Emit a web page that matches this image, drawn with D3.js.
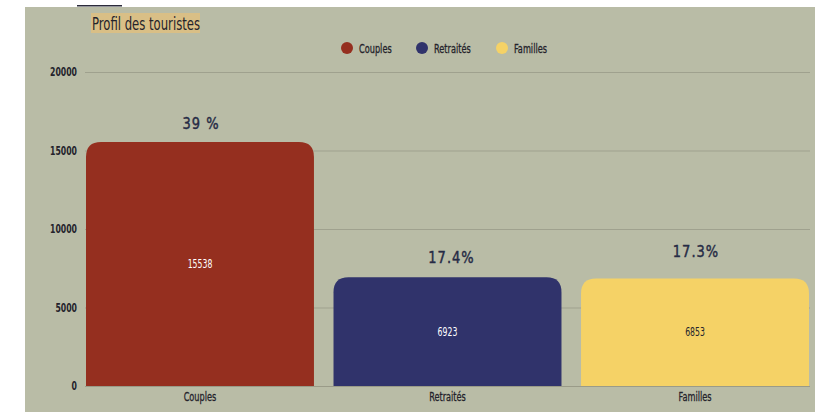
<!DOCTYPE html>
<html>
<head>
<meta charset="utf-8">
<script src="https://cdn.jsdelivr.net/npm/d3@7"></script>
<style>
  html, body { margin: 0; padding: 0; background: #ffffff; }
  svg { display: block; }
  .cond { font-family: "DejaVu Sans Condensed", "Liberation Sans Narrow", sans-serif; }
</style>
</head>
<body>
<svg id="chart" width="815" height="412"></svg>
<script>
// Tourist profile: count per group, with share labels above each bar
const categories = ["Couples", "Retraités", "Familles"];
const values = [15538, 6923, 6853];
const shares = ["39 %", "17.4%", "17.3%"];
const colors = ["#952f1f", "#30336b", "#f5d266"];
const yTicks = [0, 5000, 10000, 15000, 20000];

const svg = d3.select("#chart");
const W = 815, H = 412;
const ink = "#24232b";

// narrow text: place a group at (x, y) and squeeze the glyphs horizontally
function narrowText(parent, x, y, txt, size, sx, anchor) {
  const g = parent.append("g").attr("transform", `translate(${x},${y}) scale(${sx},1)`);
  return g.append("text").attr("class", "cond").attr("font-size", size)
    .attr("text-anchor", anchor || "start").attr("fill", ink).text(txt);
}

// panel background
svg.append("rect").attr("x", 25).attr("y", 7).attr("width", W - 25).attr("height", H - 7)
  .attr("fill", "#b9bca6");

// small header rule peeking above the panel
svg.append("rect").attr("x", 77).attr("y", 5).attr("width", 45).attr("height", 1.5).attr("fill", "#2b2b3a");

const margin = { left: 86, right: 809, top: 72, bottom: 386 };

const x = d3.scaleBand().domain(categories).range([margin.left, margin.right])
  .paddingInner(0.079).paddingOuter(0);
const y = d3.scaleLinear().domain([0, 20000]).range([margin.bottom, margin.top]);

// title
svg.append("rect").attr("x", 91).attr("y", 13).attr("width", 109).attr("height", 20).attr("fill", "#d9bf86");
narrowText(svg, 92, 29.5, "Profil des touristes", 18, 0.72);

// gridlines
svg.append("g").selectAll("line").data(yTicks.filter(d => d > 0)).join("line")
  .attr("x1", margin.left - 1).attr("x2", margin.right + 1)
  .attr("y1", d => y(d) + 0.5).attr("y2", d => y(d) + 0.5)
  .attr("stroke", "#9fa18e").attr("stroke-width", 1);

// y axis
const yAxis = svg.append("g").attr("transform", `translate(${margin.left - 9},0)`)
  .call(d3.axisLeft(y).tickValues(yTicks).tickSize(0).tickPadding(0).tickFormat(d3.format("d")));
yAxis.select(".domain").remove();
yAxis.selectAll("text").attr("class", "cond").attr("font-size", 12).attr("font-weight", "bold")
  .attr("fill", ink).attr("transform", "scale(0.72,1)");

// bars with rounded top corners
const r = 15;
function barPath(d, i) {
  const x0 = x(categories[i]), w = x.bandwidth();
  const y0 = y(d), y1 = y(0);
  return `M${x0},${y1}V${y0 + r}Q${x0},${y0} ${x0 + r},${y0}H${x0 + w - r}Q${x0 + w},${y0} ${x0 + w},${y0 + r}V${y1}Z`;
}
svg.append("g").selectAll("path").data(values).join("path")
  .attr("d", barPath).attr("fill", (d, i) => colors[i]);

// baseline
svg.append("line").attr("x1", margin.left - 1).attr("x2", margin.right + 1)
  .attr("y1", y(0) + 0.5).attr("y2", y(0) + 0.5).attr("stroke", "#9a9b88");

// value labels inside bars
const valueG = svg.append("g");
values.forEach((d, i) => {
  narrowText(valueG, x(categories[i]) + x.bandwidth() / 2, (y(d) + y(0)) / 2 + 4, d, 12, 0.72, "middle")
    .attr("fill", i === 2 ? ink : "#ffffff");
});

// share labels above bars
const shareOffset = [19, 20, 27];
const shareG = svg.append("g");
values.forEach((d, i) => {
  const g = shareG.append("g")
    .attr("transform", `translate(${x(categories[i]) + x.bandwidth() / 2 + (i === 1 ? 4 : 1)},${y(d) - shareOffset[i] + 6}) scale(0.84,1)`);
  g.append("text").attr("text-anchor", "middle")
    .attr("font-family", "'DejaVu Sans', sans-serif").attr("font-size", 15.5)
    .attr("stroke", "#262b45").attr("stroke-width", 0.45)
    .attr("letter-spacing", 1.2).attr("fill", "#262b45")
    .text(shares[i]);
});

// x axis labels
const xAxis = svg.append("g").attr("transform", `translate(0,${y(0)})`)
  .call(d3.axisBottom(x).tickSize(0).tickPadding(6));
xAxis.select(".domain").remove();
xAxis.selectAll("text").attr("class", "cond").attr("font-size", 13).attr("fill", ink)
  .attr("stroke", ink).attr("stroke-width", 0.3)
  .attr("transform", "scale(0.7,1)");

// legend
const legendX = [347, 422, 502];
const legend = svg.append("g").selectAll("g").data(categories).join("g")
  .attr("transform", (d, i) => `translate(${legendX[i]},48)`);
legend.append("circle").attr("r", 6).attr("fill", (d, i) => colors[i]);
legend.each(function (d) {
  narrowText(d3.select(this), 12, 4.5, d, 13, 0.7).attr("stroke", ink).attr("stroke-width", 0.3);
});
</script>
</body>
</html>
